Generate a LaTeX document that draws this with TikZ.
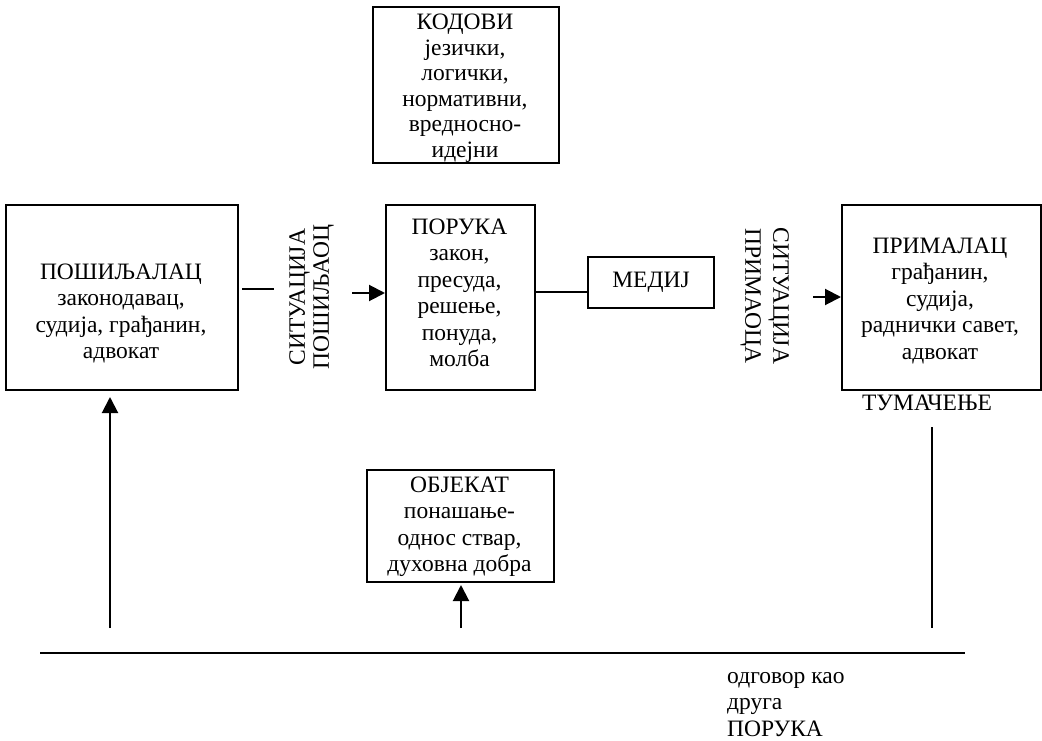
\documentclass[tikz,border=0pt]{standalone}
\usepackage{fontspec}
\setmainfont{Liberation Serif}
\usetikzlibrary{arrows.meta}
\newcommand\mlines[2][c]{\begin{tabular}[t]{@{}#1@{}}#2\end{tabular}}
\tikzset{
  box/.style={draw, line width=2pt, rectangle, inner sep=0pt, anchor=north west},
  txt/.style={inner sep=0pt, anchor=base, font=\fontsize{23.5}{26.5}\selectfont},
  ln/.style={line width=2pt},
  arr/.style={line width=2pt, -{Triangle[length=16pt,width=16pt]}},
}
\begin{document}
\begin{tikzpicture}[x=1pt,y=-1pt]
\useasboundingbox (0,0) rectangle (1042,741);
% boxes
\node[box, minimum width=232pt, minimum height=185pt] (send) at (5,204) {};
\node[box, minimum width=149pt, minimum height=185pt] (poruka) at (385,204) {};
\node[box, minimum width=126pt, minimum height=51pt] (medij) at (587,256) {};
\node[box, minimum width=199pt, minimum height=185pt] (prim) at (841,204) {};
\node[box, minimum width=186pt, minimum height=156pt] (kod) at (372,6) {};
\node[box, minimum width=187pt, minimum height=112pt] (obj) at (366,469) {};
% texts
\node[txt] (tsend) at (121,279) {\mlines{ПОШИЉАЛАЦ\\законодавац,\\судија, грађанин,\\адвокат}};
\node[txt] (tporuka) at (459.5,234) {\mlines{ПОРУКА\\закон,\\пресуда,\\решење,\\понуда,\\молба}};
\node[txt, anchor=center] (tmedij) at (medij.center) {МЕДИЈ};
\node[txt] (tprim) at (940,253) {\mlines{ПРИМАЛАЦ\\грађанин,\\судија,\\раднички савет,\\адвокат}};
\node[txt, font=\fontsize{23.5}{25.5}\selectfont] (tkod) at (465,30) {\mlines{КОДОВИ\\језички,\\логички,\\нормативни,\\вредносно-\\идејни}};
\node[txt] (tobj) at (459.5,492) {\mlines{ОБЈЕКАТ\\понашање-\\однос ствар,\\духовна добра}};
\node[txt] (ttum) at (927,410) {ТУМАЧЕЊЕ};
\node[txt, anchor=base west] (todg) at (727,683) {\mlines[l]{одговор као\\друга\\ПОРУКА}};
\node[txt, anchor=center, rotate=90, font=\fontsize{23.5}{24}\selectfont] (sit1) at (312,297)
  {\begin{tabular}{@{}c@{}}СИТУАЦИЈА\\ПОШИЉАОЦ\end{tabular}};
\node[txt, anchor=center, rotate=-90, font=\fontsize{23.5}{28}\selectfont] (sit2) at (765,296)
  {\begin{tabular}{@{}c@{}}СИТУАЦИЈА\\ПРИМАОЦА\end{tabular}};
% connectors
\coordinate (l1a) at (242,289);
\coordinate (l1b) at (274,289);
\draw[ln] (l1a) -- (l1b);
\coordinate (a1) at (352,293);
\draw[arr] (a1) -- (a1 -| poruka.west);
\coordinate (l2a) at (534,292);
\draw[ln] (l2a) -- (l2a -| medij.west);
\coordinate (a2) at (813,297);
\draw[arr] (a2) -- (a2 -| prim.west);
\coordinate (a3) at (110,628);
\draw[arr, shorten >=6pt] (a3) -- (a3 |- send.south);
\coordinate (a4) at (461,628);
\draw[arr, shorten >=2pt] (a4) -- (a4 |- obj.south);
\coordinate (v1) at (932,427);
\coordinate (v2) at (932,628);
\draw[ln] (v1) -- (v2);
\coordinate (h1) at (40,653);
\coordinate (h2) at (965,653);
\draw[ln] (h1) -- (h2);
\end{tikzpicture}
\end{document}
